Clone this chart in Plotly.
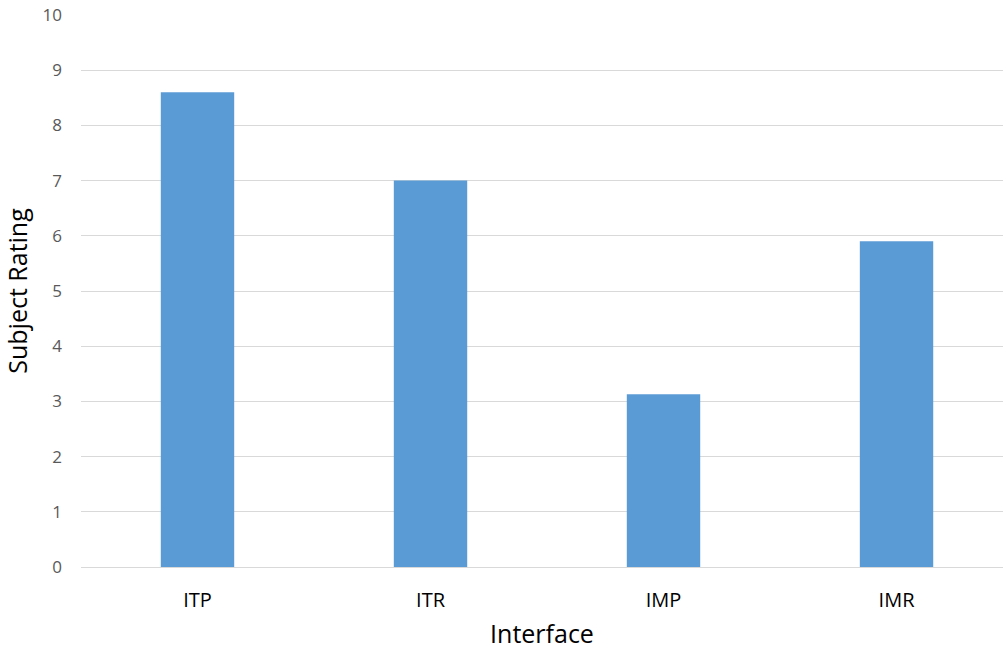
import plotly.graph_objects as go

# Mean subject ratings per interface
interfaces = ["ITP", "ITR", "IMP", "IMR"]
ratings = [8.6, 7.0, 3.13, 5.9]
y_ticks = list(range(0, 11))

fig = go.Figure(
    go.Bar(
        x=list(range(len(interfaces))),
        y=ratings,
        width=0.315,
        marker=dict(color="#5B9BD5", line=dict(width=0)),
    )
)

fig.update_layout(
    width=1003,
    height=650,
    margin=dict(l=81, r=0, t=15, b=83),
    paper_bgcolor="white",
    plot_bgcolor="white",
    showlegend=False,
    font=dict(family="Open Sans, Noto Sans, sans-serif"),
)

fig.update_xaxes(
    range=[-0.5, 3.457],
    tickmode="array",
    tickvals=list(range(len(interfaces))),
    ticktext=interfaces,
    tickfont=dict(size=20, color="#000000"),
    showgrid=False,
    zeroline=False,
    showline=False,
    ticks="",
    ticklabelstandoff=19,
    title=dict(text="Interface", font=dict(size=25, color="#000000"), standoff=16),
)

fig.update_yaxes(
    range=[0, 10],
    tickmode="array",
    tickvals=y_ticks,
    tickfont=dict(size=17, color="#595959"),
    showgrid=True,
    gridcolor="#D9D9D9",
    gridwidth=1,
    zeroline=True,
    zerolinecolor="#D9D9D9",
    zerolinewidth=1,
    showline=False,
    ticks="",
    ticklabelstandoff=18,
    title=dict(text="Subject Rating", font=dict(size=25, color="#000000"), standoff=10),
)

fig.write_html("out.html")
